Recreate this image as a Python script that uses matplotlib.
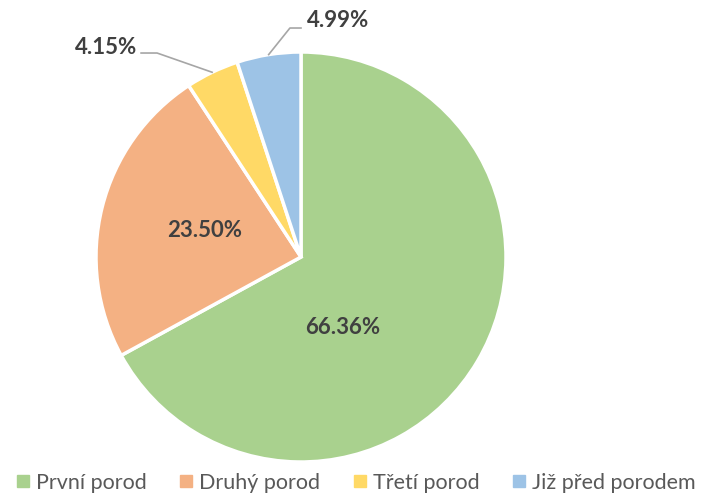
import numpy as np
import matplotlib.pyplot as plt
from matplotlib.lines import Line2D

categories = ["První porod", "Druhý porod", "Třetí porod", "Již před porodem"]
values = [66.36, 23.50, 4.15, 4.99]
colors = ["#A9D18E", "#F4B183", "#FFD966", "#9DC3E6"]

# label positions in pie units (radius 1)
label_pos = [(0.205, -0.345), (-0.468, 0.127), (-0.951, 1.024), (0.18, 1.156)]
text_color = "#404040"
font = ["Lato", "DejaVu Sans"]


def main():
    fig = plt.figure(figsize=(7.04, 4.95), dpi=100)
    ax = fig.add_axes([96 / 704, 33 / 495, 410 / 704, 410 / 495])

    wedges, _ = ax.pie(values, colors=colors, startangle=90, counterclock=False,
                       radius=1.0, wedgeprops=dict(edgecolor="white", linewidth=2.5))
    ax.set_xlim(-1, 1)
    ax.set_ylim(-1, 1)
    ax.set_aspect("auto")
    ax.axis("off")

    for i, (w, v) in enumerate(zip(wedges, values)):
        x, y = label_pos[i]
        ax.text(x, y, f"{v:.2f}%", ha="center", va="center", fontsize=16,
                fontweight="bold", color=text_color, family=font, clip_on=False)
        # leader lines for the two small slices
        if i >= 2:
            mid = np.deg2rad((w.theta1 + w.theta2) / 2)
            px, py = np.cos(mid), np.sin(mid)
            if x < 0:
                xs = [x + 0.171, x + 0.249, px]
                ys = [y - 0.029, y - 0.029, py]
            else:
                xs = [x - 0.18, x - 0.234, px]
                ys = [y - 0.039, y - 0.039, py]
            ax.plot(xs, ys, color="#A6A6A6", linewidth=1.2, clip_on=False)

    handles = [Line2D([], [], marker="s", linestyle="", markersize=8,
                      markerfacecolor=c, markeredgecolor=c) for c in colors]
    fig.legend(handles, categories, loc="center", bbox_to_anchor=(0.505, 1 - 483 / 495),
               ncol=4, frameon=False, handlelength=0.7, handletextpad=0.25,
               columnspacing=1.5, prop=dict(family=font, size=15.5), labelcolor="#595959")

    fig.savefig("out.png", dpi=100)


if __name__ == "__main__":
    main()
